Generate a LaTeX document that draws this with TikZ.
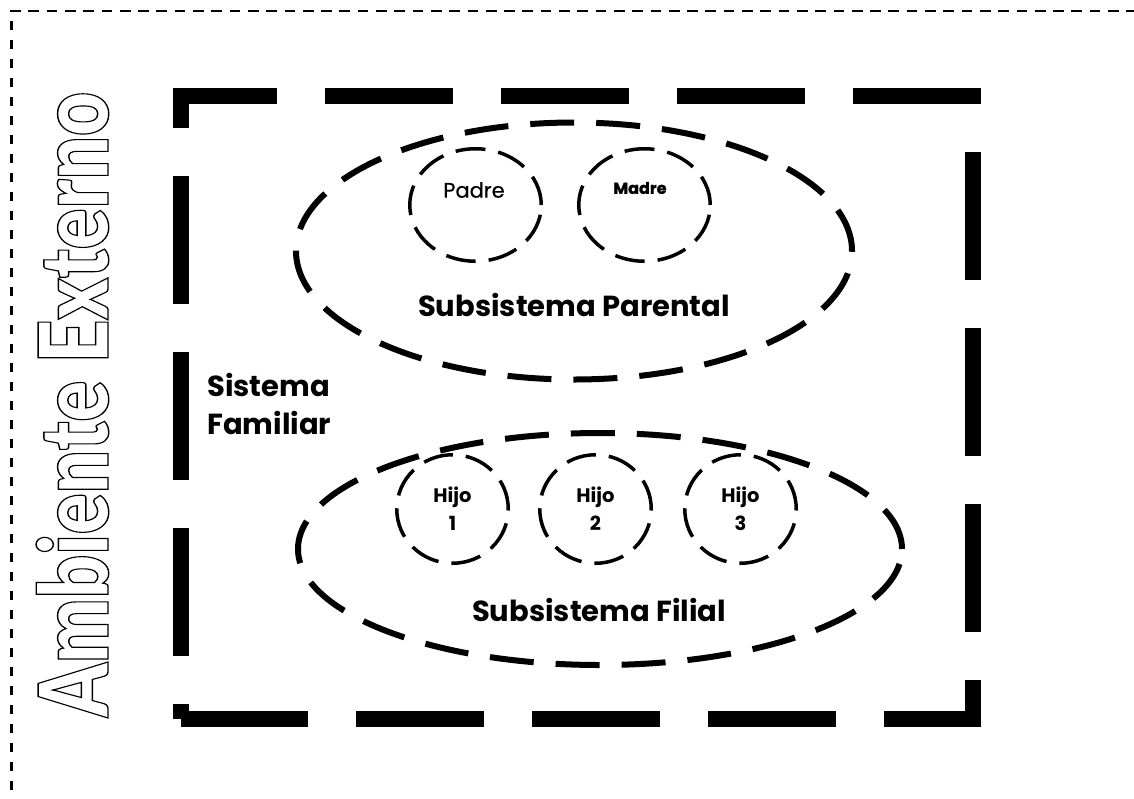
\documentclass[tikz,border=0pt]{standalone}
\usepackage{fontspec}
\setmainfont{Poppins}
\newfontfamily\outlinefont{Lato Black}
\newfontfamily\heavyfont{Poppins}[BoldFeatures={FakeBold=1.2}]
\newfontfamily\mediumfont{Poppins}[UprightFeatures={FakeBold=0.5}]
\newcommand{\strokedtext}[1]{\special{pdf:literal direct 1 Tr 1.4 w}#1\special{pdf:literal direct 0 Tr}}
\usetikzlibrary{shapes.geometric}
\tikzset{
  envline/.style={line width=2.8pt},
  famrect/.style={line width=16pt, line join=miter, dash pattern=on 128pt off 48pt, dash phase=113pt},
  bigell/.style={draw, ellipse, line width=6pt, dash pattern=on 44pt off 22pt, inner sep=0pt, outer sep=0pt},
  smallell/.style={draw, ellipse, line width=3.5pt, dash pattern=on 30pt off 13pt, inner sep=0pt, align=center,
    font=\fontsize{19.5}{28}\selectfont\bfseries},
  lbl/.style={font=\fontsize{29}{38}\selectfont\bfseries, inner sep=0pt},
}
\begin{document}
\begin{tikzpicture}[x=1pt,y=-1pt]
\useasboundingbox (0,0) rectangle (1134,798);
% external environment border
\coordinate (envTL) at (10,11);
\coordinate (envTR) at (1134,11);
\coordinate (envLT) at (11.5,21);
\coordinate (envLB) at (11.5,798);
\draw[envline, dash pattern=on 10.7pt off 7.6pt] (envTL) -- (envTR);
\draw[envline, dash pattern=on 9pt off 10pt] (envLT) -- (envLB);
% external environment label
\node[rotate=90, anchor=base, inner sep=0pt] (amb) at (108,404.5)
  {\resizebox{625pt}{72pt}{\outlinefont\fontsize{95}{95}\selectfont\strokedtext{Ambiente Externo}}};
% family system rectangle
\coordinate (rBL) at (181,719);
\coordinate (rTL) at (181,96);
\coordinate (rTR) at (973,96);
\coordinate (rBR) at (973,719);
\draw[famrect] (rBL) -- (rTL) -- (rTR) -- (rBR) -- (rBL);
% subsystems
\node[bigell, minimum width=556pt, minimum height=257pt] (parental) at (574,251) {};
\node[bigell, minimum width=604pt, minimum height=232pt] (filial) at (600,549) {};
\node[smallell, minimum width=131.5pt, minimum height=112.5pt] (padreC) at (475.5,205) {};
\node[smallell, minimum width=131.5pt, minimum height=112.5pt] (madreC) at (644.5,205) {};
\node[font=\mediumfont\fontsize{21}{24}\selectfont, inner sep=0pt] (padre) at (474,190) {Padre};
\node[font=\heavyfont\fontsize{16}{20}\selectfont\bfseries, inner sep=0pt] (madre) at (640,188) {Madre};
\node[smallell, minimum width=111.5pt, minimum height=108.5pt] (hijo1) at (452.5,509) {Hijo\\1};
\node[smallell, minimum width=111.5pt, minimum height=108.5pt] (hijo2) at (595.5,509) {Hijo\\2};
\node[smallell, minimum width=111.5pt, minimum height=108.5pt] (hijo3) at (740.5,509) {Hijo\\3};
\node[lbl] (parlbl) at (574,305) {Subsistema Parental};
\node[lbl] (fillbl) at (599,610) {Subsistema Filial};
\node[lbl, anchor=west, align=left] (sislbl) at (207,404) {Sistema\\Familiar};
\end{tikzpicture}
\end{document}
